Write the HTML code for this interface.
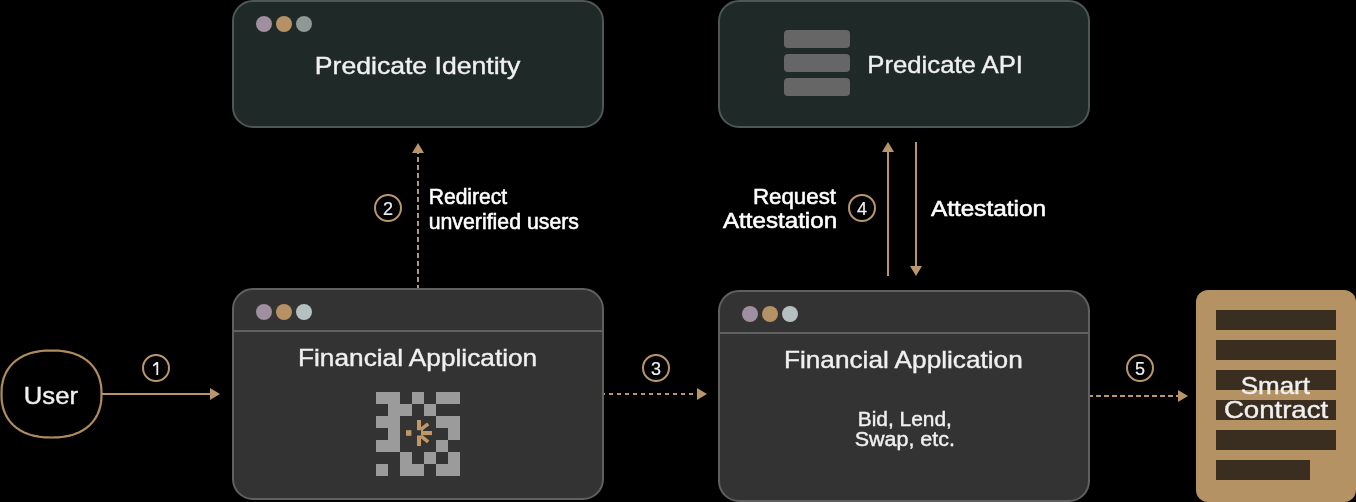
<!DOCTYPE html>
<html><head><meta charset="utf-8">
<style>
html,body{margin:0;padding:0;background:#000;width:1356px;height:502px;overflow:hidden}
svg{display:block;position:absolute;left:0;top:0;will-change:transform}
text{font-family:"Liberation Sans",sans-serif;fill:#f0f0f0;stroke:#f0f0f0;stroke-width:0.4px}
.l{fill:#fff;stroke:#fff;stroke-width:0.55px}
.n{stroke-width:0.2px}
</style></head>
<body>
<svg width="1356" height="502" viewBox="0 0 1356 502">
<defs>
<marker id="ah" markerWidth="10" markerHeight="12" refX="0" refY="6" orient="auto" markerUnits="userSpaceOnUse">
<path d="M0,0 L10,6 L0,12 Z" fill="#b9966a"/>
</marker>
</defs>
<!-- Box 1: Predicate Identity -->
<rect x="233" y="1" width="370" height="126" rx="20" fill="#1f2928" stroke="#4d5855" stroke-width="2"/>
<circle cx="264" cy="24" r="8" fill="#a08fa0"/>
<circle cx="284" cy="24" r="8" fill="#b69165"/>
<circle cx="304" cy="24" r="8" fill="#8f9895"/>
<text x="314.8" y="74" font-size="24.5" textLength="205.5" lengthAdjust="spacingAndGlyphs">Predicate Identity</text>

<!-- Box 2: Predicate API -->
<rect x="719" y="1" width="370" height="126" rx="20" fill="#1f2928" stroke="#4d5855" stroke-width="2"/>
<rect x="784" y="30" width="66" height="18" rx="4" fill="#666"/>
<rect x="784" y="54" width="66" height="18" rx="4" fill="#666"/>
<rect x="784" y="78" width="66" height="18" rx="4" fill="#666"/>
<text x="867.3" y="73" font-size="24.5" textLength="155.7" lengthAdjust="spacingAndGlyphs">Predicate API</text>

<!-- Box 3: Financial Application (left) -->
<rect x="233" y="289" width="370" height="210" rx="20" fill="#333" stroke="#606060" stroke-width="2"/>
<rect x="234" y="330" width="368" height="2" fill="#626262"/>
<circle cx="264" cy="312" r="8" fill="#a08fa0"/>
<circle cx="284" cy="312" r="8" fill="#b69165"/>
<circle cx="304" cy="312" r="8" fill="#b5c1c0"/>
<text x="298.0" y="366" font-size="24.5" textLength="239.2" lengthAdjust="spacingAndGlyphs">Financial Application</text>
<g fill="#9b9b9b"><rect x="376" y="392" width="12" height="12"/><rect x="388" y="392" width="12" height="12"/><rect x="412" y="392" width="12" height="12"/><rect x="436" y="392" width="12" height="12"/><rect x="448" y="392" width="12" height="12"/><rect x="388" y="404" width="12" height="12"/><rect x="400" y="404" width="12" height="12"/><rect x="424" y="404" width="12" height="12"/><rect x="376" y="416" width="12" height="12"/><rect x="388" y="416" width="12" height="12"/><rect x="436" y="416" width="12" height="12"/><rect x="448" y="416" width="12" height="12"/><rect x="388" y="428" width="12" height="12"/><rect x="448" y="428" width="12" height="12"/><rect x="376" y="440" width="12" height="12"/><rect x="388" y="440" width="12" height="12"/><rect x="436" y="440" width="12" height="12"/><rect x="400" y="452" width="12" height="12"/><rect x="424" y="452" width="12" height="12"/><rect x="448" y="452" width="12" height="12"/><rect x="376" y="464" width="12" height="12"/><rect x="400" y="464" width="12" height="12"/><rect x="412" y="464" width="12" height="12"/><rect x="436" y="464" width="12" height="12"/><rect x="448" y="464" width="12" height="12"/></g>
<g fill="#c09866">
<rect x="406" y="430.2" width="5.4" height="5.6"/>
<rect x="417" y="420" width="4" height="10.2"/>
<rect x="417" y="435.5" width="4" height="10.5"/>
<rect x="421" y="430" width="2" height="5.5"/>
<rect x="423" y="431" width="9" height="4.1"/>
</g>
<g stroke="#c09866" stroke-width="3.6" stroke-linecap="butt">
<line x1="421" y1="429.4" x2="428.2" y2="423.8"/>
<line x1="421" y1="436.2" x2="428.2" y2="441.8"/>
</g>

<!-- Box 4: Financial Application (right) -->
<rect x="719" y="291" width="370" height="210" rx="20" fill="#333" stroke="#606060" stroke-width="2"/>
<rect x="720" y="332" width="368" height="2" fill="#626262"/>
<circle cx="750" cy="314" r="8" fill="#a08fa0"/>
<circle cx="770" cy="314" r="8" fill="#b69165"/>
<circle cx="790" cy="314" r="8" fill="#b5c1c0"/>
<text x="784.0" y="368" font-size="24.5" textLength="238.7" lengthAdjust="spacingAndGlyphs">Financial Application</text>
<text x="857.8" y="426" font-size="20" textLength="94.1" lengthAdjust="spacingAndGlyphs">Bid, Lend,</text>
<text x="854.7" y="445.5" font-size="20" textLength="100.3" lengthAdjust="spacingAndGlyphs">Swap, etc.</text>

<!-- Smart contract -->
<rect x="1196" y="290" width="160" height="212" rx="12" fill="#b49264"/>
<g fill="#3a2e20">
<rect x="1216" y="310" width="120" height="20"/>
<rect x="1216" y="340" width="120" height="20"/>
<rect x="1216" y="370" width="120" height="20"/>
<rect x="1216" y="400" width="120" height="20"/>
<rect x="1216" y="430" width="120" height="20"/>
<rect x="1216" y="460" width="94" height="20"/>
</g>
<text x="1240.7" y="393.5" font-size="24" textLength="69.3" lengthAdjust="spacingAndGlyphs">Smart</text>
<text x="1223.9" y="418" font-size="24" textLength="104.3" lengthAdjust="spacingAndGlyphs">Contract</text>

<!-- User -->
<path d="M101.5,394.0 L101.4,397.3 L101.3,400.1 L101.0,402.7 L100.5,405.1 L100.0,407.4 L99.4,409.7 L98.6,411.8 L97.7,413.9 L96.7,415.9 L95.6,417.8 L94.4,419.6 L93.1,421.4 L91.7,423.1 L90.1,424.7 L88.5,426.2 L86.8,427.6 L84.9,428.9 L83.0,430.2 L81.0,431.3 L78.9,432.4 L76.7,433.3 L74.4,434.2 L72.0,435.0 L69.5,435.6 L66.9,436.2 L64.3,436.7 L61.5,437.0 L58.5,437.3 L55.3,437.4 L51.5,437.5 L47.7,437.4 L44.5,437.3 L41.5,437.0 L38.7,436.7 L36.1,436.2 L33.5,435.6 L31.0,435.0 L28.6,434.2 L26.3,433.3 L24.1,432.4 L22.0,431.3 L20.0,430.2 L18.1,428.9 L16.2,427.6 L14.5,426.2 L12.9,424.7 L11.3,423.1 L9.9,421.4 L8.6,419.6 L7.4,417.8 L6.3,415.9 L5.3,413.9 L4.4,411.8 L3.6,409.7 L3.0,407.4 L2.5,405.1 L2.0,402.7 L1.7,400.1 L1.6,397.3 L1.5,394.0 L1.6,390.7 L1.7,387.9 L2.0,385.3 L2.5,382.9 L3.0,380.6 L3.6,378.3 L4.4,376.2 L5.3,374.1 L6.3,372.1 L7.4,370.2 L8.6,368.4 L9.9,366.6 L11.3,364.9 L12.9,363.3 L14.5,361.8 L16.2,360.4 L18.1,359.1 L20.0,357.8 L22.0,356.7 L24.1,355.6 L26.3,354.7 L28.6,353.8 L31.0,353.0 L33.5,352.4 L36.1,351.8 L38.7,351.3 L41.5,351.0 L44.5,350.7 L47.7,350.6 L51.5,350.5 L55.3,350.6 L58.5,350.7 L61.5,351.0 L64.3,351.3 L66.9,351.8 L69.5,352.4 L72.0,353.0 L74.4,353.8 L76.7,354.7 L78.9,355.6 L81.0,356.7 L83.0,357.8 L84.9,359.1 L86.8,360.4 L88.5,361.8 L90.1,363.3 L91.7,364.9 L93.1,366.6 L94.4,368.4 L95.6,370.2 L96.7,372.1 L97.7,374.1 L98.6,376.2 L99.4,378.3 L100.0,380.6 L100.5,382.9 L101.0,385.3 L101.3,387.9 L101.4,390.7 Z" fill="none" stroke="#b08b5e" stroke-width="2.2"/>
<text x="23.8" y="404" font-size="24.5" textLength="54.2" lengthAdjust="spacingAndGlyphs">User</text>

<!-- Arrow 1 -->
<line x1="102" y1="394" x2="210" y2="394" stroke="#b9966a" stroke-width="2"/>
<path d="M210,388 L220,394 L210,400 Z" fill="#b9966a"/>
<circle cx="156" cy="368" r="13" fill="none" stroke="#b9966a" stroke-width="2"/>
<path d="M156.4,362 L158.2,362 L158.2,375 L156.4,375 L156.4,364.4 L153.5,366.4 L152.8,365 Z" fill="#f0f0f0"/>

<!-- Arrow 3 -->
<line x1="604" y1="394" x2="697" y2="394" stroke="#b9966a" stroke-width="2" stroke-dasharray="4 4" stroke-dashoffset="3"/>
<path d="M697,388 L707,394 L697,400 Z" fill="#b9966a"/>
<circle cx="656" cy="368" r="13" fill="none" stroke="#b9966a" stroke-width="2"/>
<text class="n" x="656" y="375" font-size="18" text-anchor="middle">3</text>

<!-- Arrow 5 -->
<line x1="1090" y1="396" x2="1178" y2="396" stroke="#b9966a" stroke-width="2" stroke-dasharray="5 3" stroke-dashoffset="2"/>
<path d="M1178,390 L1188,396 L1178,402 Z" fill="#b9966a"/>
<circle cx="1140" cy="368" r="13" fill="none" stroke="#b9966a" stroke-width="2"/>
<text class="n" x="1140" y="375" font-size="18" text-anchor="middle">5</text>

<!-- Arrow 2 -->
<line x1="418" y1="288" x2="418" y2="153" stroke="#b9966a" stroke-width="2" stroke-dasharray="5 3" stroke-dashoffset="2"/>
<path d="M412,153 L418,143 L424,153 Z" fill="#b9966a"/>
<circle cx="388" cy="208" r="13" fill="none" stroke="#b9966a" stroke-width="2"/>
<text class="n" x="388" y="215" font-size="18" text-anchor="middle">2</text>
<text class="l" x="428.7" y="204" font-size="22" textLength="78.5" lengthAdjust="spacingAndGlyphs">Redirect</text>
<text class="l" x="428.7" y="228.5" font-size="22" textLength="150.3" lengthAdjust="spacingAndGlyphs">unverified users</text>

<!-- Arrow 4 -->
<line x1="888" y1="276" x2="888" y2="152" stroke="#b9966a" stroke-width="2"/>
<path d="M882,152 L888,142 L894,152 Z" fill="#b9966a"/>
<line x1="916" y1="142" x2="916" y2="266" stroke="#b9966a" stroke-width="2"/>
<path d="M910,266 L916,276 L922,266 Z" fill="#b9966a"/>
<circle cx="862" cy="208" r="13" fill="none" stroke="#b9966a" stroke-width="2"/>
<text class="n" x="862" y="215" font-size="18" text-anchor="middle">4</text>
<text class="l" x="752.9" y="204" font-size="22" textLength="83.2" lengthAdjust="spacingAndGlyphs">Request</text>
<text class="l" x="723.0" y="227.5" font-size="22" textLength="114.1" lengthAdjust="spacingAndGlyphs">Attestation</text>
<text class="l" x="930.9" y="216" font-size="22" textLength="115.1" lengthAdjust="spacingAndGlyphs">Attestation</text>
</svg>
</body></html>
